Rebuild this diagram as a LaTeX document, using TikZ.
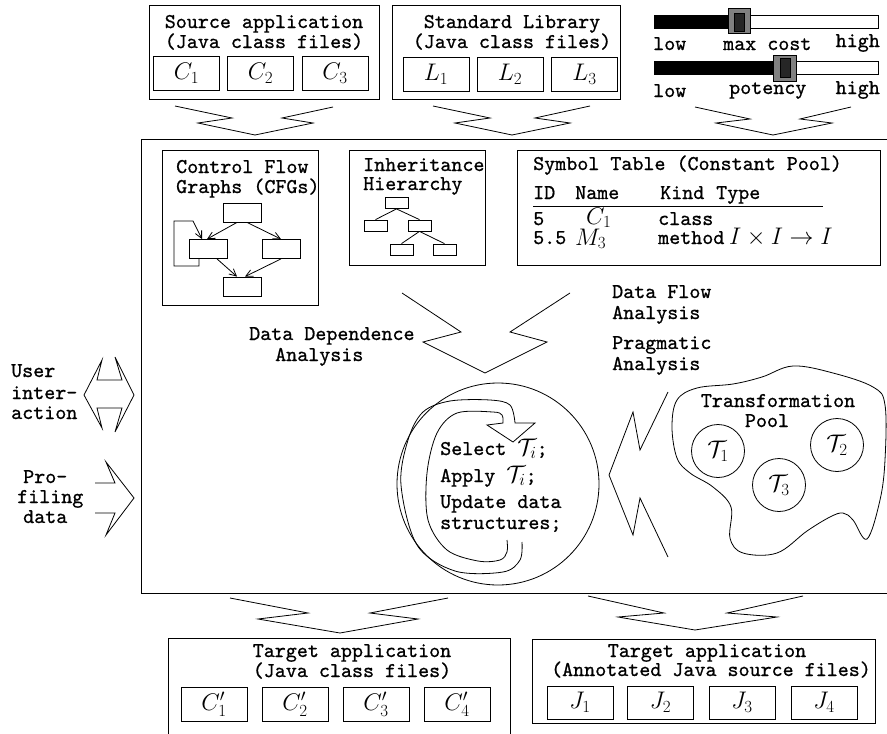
\RequirePackage{fix-cm}
\documentclass[tikz,border=0pt]{standalone}
\usepackage{fontspec}
\newfontfamily\ttfont{lmmono10-regular.otf}[FakeBold=0.8]
\DeclareMathSizes{24}{24}{17}{12}
\newcommand\mbig[1]{{\fontsize{24}{24}\selectfont$#1$}}
\usetikzlibrary{arrows.meta}
\tikzset{
  ln/.style={line width=0.8pt},
  tt/.style={font=\fontsize{21}{21}\selectfont\ttfont, inner sep=0pt},
  ttl/.style={tt, anchor=base west},
  ttc/.style={tt, anchor=base},
  ttr/.style={tt, anchor=base east},
  mth/.style={font=\fontsize{24}{24}\selectfont, inner sep=0pt},
  frame/.style={draw, ln, inner sep=0pt},
  cbox/.style={frame, minimum width=66pt, minimum height=34pt, font=\fontsize{24}{24}\selectfont},
  sbox/.style={frame, minimum width=23pt, minimum height=11pt},
  cfgbox/.style={frame, minimum width=38pt, minimum height=19pt},
  tcirc/.style={draw, ln, circle, minimum size=53pt, inner sep=0pt, font=\fontsize{24}{24}\selectfont},
  barb/.style={ln, -{Straight Barb[length=7pt,width=7pt]}}
}
\begin{document}
\begin{tikzpicture}[x=1pt,y=-1pt]
\useasboundingbox (0,0) rectangle (887,734);

% ---------- Source application ----------
\node[frame, minimum width=230pt, minimum height=94pt] (src) at (264,52) {};
\node[ttc] (srct1) at (264,28) {Source application};
\node[ttc] (srct2) at (264,48) {(Java class files)};
\node[cbox] (c1) at (186.5,73) {$C_1$};
\node[cbox] (c2) at (260.5,73) {$C_2$};
\node[cbox] (c3) at (335,73) {$C_3$};

% ---------- Standard Library ----------
\node[frame, minimum width=228pt, minimum height=94pt] (lib) at (506,52) {};
\node[ttc] (libt1) at (512,28) {Standard Library};
\node[ttc] (libt2) at (512,48) {(Java class files)};
\node[cbox] (l1) at (436,74) {$L_1$};
\node[cbox] (l2) at (510,74) {$L_2$};
\node[cbox] (l3) at (584.5,74) {$L_3$};

% ---------- Sliders ----------
\draw[ln] (654,15) rectangle (878,28);
\fill (654,15) rectangle (730,28);
\draw[ln, fill=black!50] (728,8) rectangle (750,33);
\draw[ln, fill=black!85] (734,13) rectangle (744,31);
\node[ttl] (low1) at (653,50) {low};
\node[ttl] (cost) at (723,50) {max cost};
\node[ttr] (high1) at (880,47) {high};

\draw[ln] (654,61) rectangle (878,74);
\fill (654,61) rectangle (775,74);
\draw[ln, fill=black!50] (773,55) rectangle (796,81);
\draw[ln, fill=black!85] (780,58) rectangle (790,77);
\node[ttl] (low2) at (653,97) {low};
\node[ttl] (pot) at (729,94) {potency};
\node[ttr] (high2) at (880,94) {high};

% ---------- top chevrons ----------
\draw[ln] (175,106) -- (232,118) -- (198,123) -- (255,135) -- (313,123) -- (282,118) -- (333,107);
\draw[ln] (433,106) -- (490,118) -- (455,123) -- (512,135) -- (570,123) -- (535,118) -- (590,106);
\draw[ln] (695,107) -- (750,119) -- (716,123) -- (773,135) -- (832,123) -- (800,119) -- (851,107);

% ---------- main box ----------
\draw[ln] (890,139) -- (141,139) -- (141,593) -- (890,593);

% ---------- CFG ----------
\node[frame, minimum width=156pt, minimum height=155pt] (cfg) at (240,227.5) {};
\node[ttl] (cfgt1) at (176,173) {Control Flow};
\node[ttl] (cfgt2) at (176,193) {Graphs (CFGs)};
\node[cfgbox] (ga) at (242,212.5) {};
\node[cfgbox] (gb) at (208,249) {};
\node[cfgbox] (gc) at (281,249) {};
\node[cfgbox] (gd) at (242,286.5) {};
\draw[barb] ([xshift=-5pt]ga.south) -- ([xshift=-1pt]gb.north);
\draw[barb] ([xshift=5pt]ga.south) -- (gc.north);
\draw[barb] ([xshift=9pt]gb.south) -- ([xshift=-5pt]gd.north);
\draw[barb] (gc.south) -- ([xshift=3pt]gd.north);
\draw[barb] ([xshift=-9pt]gb.south) -- ++(0,7) -- ++(-25,0) -- ++(0,-45) -- ++(19,0) -- ([xshift=-6pt]gb.north);

% ---------- Inheritance ----------
\node[frame, minimum width=136pt, minimum height=115pt] (inh) at (417,207.5) {};
\node[ttl] (inht1) at (363,171) {Inheritance};
\node[ttl] (inht2) at (363,190) {Hierarchy};
\node[sbox] (ha) at (396.5,203) {};
\node[sbox] (hb) at (375.5,225.5) {};
\node[sbox] (hc) at (419.5,225.5) {};
\node[sbox] (hd) at (401.5,249.5) {};
\node[sbox] (he) at (444.5,249.5) {};
\draw[ln] (ha.south) -- (hb.north);
\draw[ln] (ha.south) -- (hc.north);
\draw[ln] (hc.south) -- (hd.north);
\draw[ln] (hc.south) -- (he.north);

% ---------- Symbol table ----------
\node[frame, minimum width=363pt, minimum height=115pt] (sym) at (698.5,207.5) {};
\node[ttl] (symt) at (533,170) {Symbol Table (Constant Pool)};
\node[ttl] (hid) at (533,199) {ID};
\node[ttl] (hname) at (575,199) {Name};
\node[ttl] (hkind) at (660,199) {Kind};
\node[ttl] (htype) at (716,199) {Type};
\draw[ln] (533,206) -- (823,206);
\node[ttl] (r1a) at (533,225) {5};
\node[mth, anchor=base west] (r1b) at (586,224) {$C_1$};
\node[ttl] (r1c) at (658,225) {class};
\node[ttl] (r2a) at (533,244) {5.5};
\node[mth, anchor=base west] (r2b) at (575,245) {$M_3$};
\node[ttl] (r2c) at (658,244) {method};
\node[mth, anchor=base west] (r2d) at (729,244) {$I\times I\rightarrow I$};

% ---------- analysis chevron and labels ----------
\draw[ln] (402,293) -- (461,332) -- (423,342) -- (485,373) -- (547,342) -- (510,332) -- (570,293);
\node[ttl] (dd1) at (249,340) {Data Dependence};
\node[ttl] (dd2) at (275,361) {Analysis};
\node[ttl] (df1) at (612,298) {Data Flow};
\node[ttl] (df2) at (612,319) {Analysis};
\node[ttl] (pa1) at (612,349) {Pragmatic};
\node[ttl] (pa2) at (612,370) {Analysis};

% ---------- engine circle ----------
\node[draw, ln, circle, minimum size=202pt, inner sep=0pt] (eng) at (498,484) {};
\draw[ln] plot[smooth, tension=0.55] coordinates {(522,542) (520,560) (503,572) (455,571) (417,545) (401,485) (408,440) (423,412) (450,401) (490,400) (510,405) (515,423)}
  -- (535,423) -- (513,442) -- (487,425) -- (503,423)
  -- plot[smooth, tension=0.55] coordinates {(503,423) (502,415) (493,412) (457,413) (437,433) (427,473) (428,520) (447,550) (478,561) (500,560) (507,552) (507,540)};
\node[ttl] (st1) at (440,455) {Select \mbig{\mathcal{T}_i};};
\node[ttl] (st2) at (440,482) {Apply \mbig{\mathcal{T}_i};};
\node[ttl] (st3) at (440,508) {Update data};
\node[ttl] (st4) at (440,529) {structures;};

% ---------- lightning arrow ----------
\draw[ln] (668,392) -- (640,450) -- (633,412) -- (609,475) -- (633,535) -- (640,498) -- (668,557);

% ---------- Transformation pool ----------
\draw[ln] plot[smooth cycle, tension=0.6] coordinates {(677,400) (697,388) (733,384) (762,377) (793,366) (833,373) (873,387) (885,405) (885,460) (880,500) (867,539) (853,520) (843,513) (830,517) (807,531) (777,553) (743,553) (730,538) (731,507) (713,487) (690,473) (677,458) (672,427)};
\node[ttc] (tp1) at (778,407) {Transformation};
\node[ttc] (tp2) at (767,427) {Pool};
\node[tcirc] (t1) at (718,451) {$\mathcal{T}_1$};
\node[tcirc] (t2) at (837,445) {$\mathcal{T}_2$};
\node[tcirc] (t3) at (779,485) {$\mathcal{T}_3$};

% ---------- user interaction / profiling ----------
\draw[ln] (102,360) -- (97,380) -- (122,380) -- (115,357) -- (134,395) -- (115,432) -- (122,408) -- (97,408) -- (102,428) -- (84,395) -- cycle;
\node[ttl] (ui1) at (11,377) {User};
\node[ttl] (ui2) at (11,399) {inter-};
\node[ttl] (ui3) at (11,419) {action};
\draw[ln] (95,483) -- (115,483) -- (106,462) -- (134,498) -- (106,535) -- (115,513) -- (95,513);
\node[ttl] (pf1) at (23,483) {Pro-};
\node[ttl] (pf2) at (17,503) {filing};
\node[ttl] (pf3) at (23,523) {data};

% ---------- bottom chevrons ----------
\draw[ln] (230,598) -- (308,613) -- (258,619) -- (340,633) -- (418,619) -- (370,613) -- (448,598);
\draw[ln] (588,596) -- (664,613) -- (618,617) -- (695,630) -- (777,617) -- (727,613) -- (803,596);

% ---------- Target application (class files) ----------
\coordinate (tga) at (168,740);
\coordinate (tgb) at (510,740);
\draw[ln] (tga) -- (168,638) -- (510,638) -- (tgb);
\node[ttc] (tg1) at (352,657) {Target application};
\node[ttc] (tg2) at (352,677) {(Java class files)};
\node[cbox] (cp1) at (214,704.5) {$C'_1$};
\node[cbox] (cp2) at (295,704.5) {$C'_2$};
\node[cbox] (cp3) at (376,704.5) {$C'_3$};
\node[cbox] (cp4) at (457,704.5) {$C'_4$};

% ---------- Target application (annotated sources) ----------
\node[frame, minimum width=343pt, minimum height=84pt] (tj) at (703.5,681) {};
\node[ttc] (tj1) at (707,657) {Target application};
\node[ttc] (tj2) at (711,676) {(Annotated Java source files)};
\node[cbox, minimum height=33pt] (j1) at (580,702.5) {$J_1$};
\node[cbox, minimum height=33pt] (j2) at (660.5,702.5) {$J_2$};
\node[cbox, minimum height=33pt] (j3) at (742,702.5) {$J_3$};
\node[cbox, minimum height=33pt] (j4) at (824,702.5) {$J_4$};
\end{tikzpicture}
\end{document}
